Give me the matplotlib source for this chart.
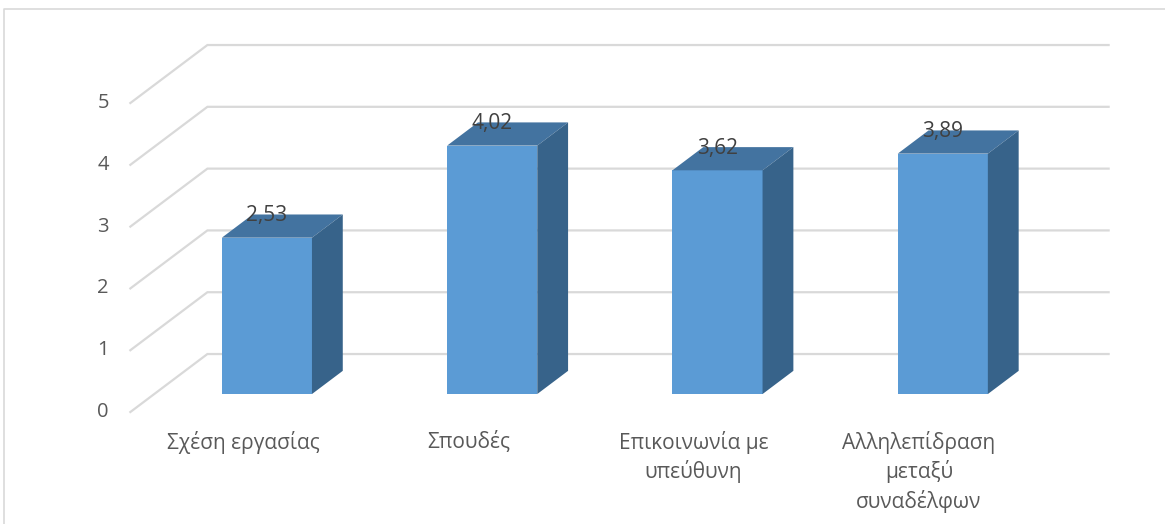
import matplotlib
matplotlib.use("Agg")
import matplotlib.pyplot as plt
import numpy as np

categories = ["Σχέση εργασίας", "Σπουδές", "Επικοινωνία με\nυπεύθυνη",
              "Αλληλεπίδραση\nμεταξύ\nσυναδέλφων"]
values = [2.53, 4.02, 3.62, 3.89]
y_ticks = [0, 1, 2, 3, 4, 5]

# oblique projection of depth (0 = floor front, 1 = back wall) into data units
DX, DY = 0.342, 0.9385
BAR_W = 0.4
BAR_D0, BAR_D1 = 0.31, 0.71

FRONT = "#5B9BD5"
TOP = "#4373A0"
SIDE = "#37638A"
GRID = "#D9D9D9"
TEXT = "#595959"


def proj(x, v, d):
    return x + DX * d, v + DY * d


fig = plt.figure(figsize=(11.65, 5.24), dpi=100)
ax = fig.add_axes([0, 0, 1, 1])
ax.set_xlim(-1.0786, 4.0923)
ax.set_ylim(-1.812, 6.667)
ax.axis("off")
plt.rcParams["font.family"] = ["Open Sans", "DejaVu Sans"]

n = len(categories)
x_left, x_right = -0.5, n - 0.5

# back wall gridlines and left wall diagonals
for t in y_ticks:
    x0, y0 = proj(x_left, t, 0)
    x1, y1 = proj(x_left, t, 1)
    x2, _ = proj(x_right, t, 1)
    ax.plot([x0, x1, x2], [y0, y1, y1], color=GRID, lw=1.6,
            solid_joinstyle="miter", zorder=1)
    ax.text(x_left - 0.121, t, str(t), ha="center", va="center",
            fontsize=14.5, color=TEXT)

# 3d-looking bars
for i, v in enumerate(values):
    xl, xr = i - BAR_W / 2, i + BAR_W / 2
    a = proj(xl, 0, BAR_D0)
    b = proj(xr, 0, BAR_D0)
    c = proj(xr, v, BAR_D0)
    d = proj(xl, v, BAR_D0)
    c2 = proj(xr, v, BAR_D1)
    d2 = proj(xl, v, BAR_D1)
    b2 = proj(xr, 0, BAR_D1)
    ax.fill(*zip(a, b, c, d), color=FRONT, lw=0, zorder=3)
    ax.fill(*zip(d, c, c2, d2), color=TOP, lw=0, zorder=3)
    ax.fill(*zip(b, b2, c2, c), color=SIDE, lw=0, zorder=3)
    lx, _ = proj(i, v, BAR_D0)
    ax.text(lx, v + 0.56, f"{v:.2f}".replace(".", ","), ha="center",
            va="baseline", fontsize=15, color="#404040", zorder=4)

for i, cat in enumerate(categories):
    ax.text(i, -0.30, cat, ha="center", va="top", fontsize=15,
            color=TEXT, linespacing=1.36)

# chart area border
ax.plot([0.0035, 0.0035, 1.2], [0.0, 0.982, 0.982], transform=fig.transFigure,
        color=GRID, lw=1.2, clip_on=False)

fig.savefig("out.png", dpi=100)
plt.close(fig)
